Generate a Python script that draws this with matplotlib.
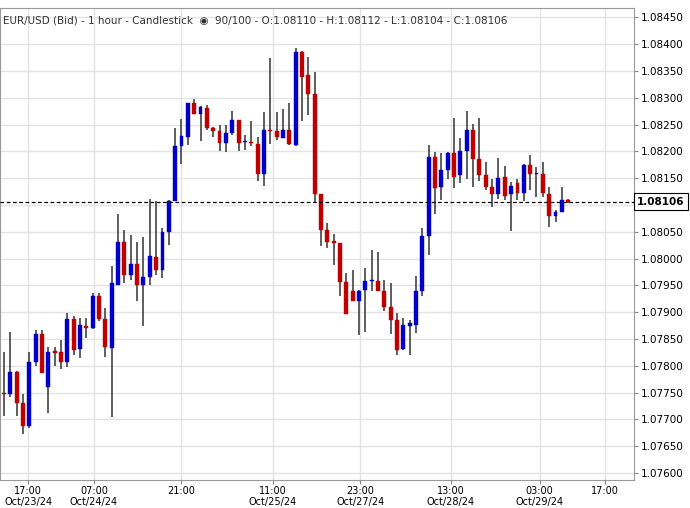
import matplotlib
matplotlib.use("Agg")
import matplotlib.pyplot as plt
from matplotlib.patches import Rectangle

opens = [1.07750,1.07747,1.07788,1.07730,1.07688,1.07807,1.07859,1.07760,1.07827,1.07825,
         1.07807,1.07888,1.07831,1.07875,1.07870,1.07931,1.07888,1.07833,1.07951,1.08031,
         1.07970,1.07990,1.07951,1.07966,1.08003,1.07979,1.08050,1.08108,1.08209,1.08227,
         1.08290,1.08270,1.08281,1.08244,1.08238,1.08216,1.08235,1.08259,1.08218,1.08218,
         1.08214,1.08157,1.08240,1.08238,1.08225,1.08240,1.08212,1.08385,1.08342,1.08307,
         1.08121,1.08053,1.08033,1.08029,1.07957,1.07940,1.07921,1.07942,1.07959,1.07959,
         1.07940,1.07909,1.07885,1.07831,1.07875,1.07877,1.07940,1.08042,1.08190,1.08134,
         1.08166,1.08196,1.08155,1.08201,1.08240,1.08186,1.08155,1.08134,1.08120,1.08153,
         1.08120,1.08140,1.08123,1.08175,1.08158,1.08158,1.08121,1.08079,1.08086,1.08110]
highs = [1.07825,1.07864,1.07790,1.07747,1.07825,1.07866,1.07866,1.07835,1.07835,1.07848,
         1.07898,1.07892,1.07890,1.07890,1.07936,1.07936,1.07907,1.07986,1.08083,1.08053,
         1.08044,1.08031,1.08040,1.08112,1.08108,1.08057,1.08110,1.08244,1.08261,1.08290,
         1.08298,1.08285,1.08287,1.08246,1.08250,1.08250,1.08276,1.08259,1.08231,1.08257,
         1.08227,1.08274,1.08374,1.08274,1.08278,1.08290,1.08393,1.08387,1.08376,1.08348,
         1.08121,1.08066,1.08046,1.08029,1.07973,1.07979,1.07942,1.07983,1.08016,1.08012,
         1.07960,1.07955,1.07898,1.07890,1.07885,1.07968,1.08057,1.08212,1.08199,1.08196,
         1.08199,1.08263,1.08224,1.08276,1.08251,1.08263,1.08181,1.08149,1.08188,1.08173,
         1.08142,1.08149,1.08177,1.08194,1.08170,1.08181,1.08134,1.08090,1.08134,1.08112]
lows = [1.07706,1.07742,1.07706,1.07673,1.07684,1.07799,1.07786,1.07712,1.07799,1.07794,
        1.07797,1.07820,1.07814,1.07851,1.07868,1.07883,1.07816,1.07704,1.07951,1.07955,
        1.07960,1.07920,1.07875,1.07951,1.07970,1.07964,1.08025,1.08108,1.08177,1.08211,
        1.08270,1.08220,1.08240,1.08227,1.08201,1.08199,1.08231,1.08201,1.08203,1.08209,
        1.08144,1.08136,1.08214,1.08222,1.08224,1.08212,1.08209,1.08257,1.08268,1.08105,
        1.08023,1.08020,1.07988,1.07931,1.07896,1.07921,1.07857,1.07864,1.07940,1.07940,
        1.07903,1.07859,1.07820,1.07829,1.07820,1.07862,1.07931,1.08007,1.08083,1.08110,
        1.08149,1.08131,1.08140,1.08149,1.08134,1.08144,1.08127,1.08097,1.08112,1.08110,
        1.08051,1.08110,1.08108,1.08127,1.08114,1.08114,1.08059,1.08068,1.08086,1.08104]
closes = [1.07747,1.07788,1.07730,1.07688,1.07807,1.07859,1.07786,1.07825,1.07824,1.07807,
          1.07888,1.07829,1.07877,1.07870,1.07931,1.07888,1.07835,1.07955,1.08031,1.07970,
          1.07990,1.07951,1.07966,1.08005,1.07979,1.08050,1.08108,1.08209,1.08229,1.08290,
          1.08270,1.08283,1.08244,1.08238,1.08216,1.08235,1.08259,1.08216,1.08218,1.08216,
          1.08157,1.08240,1.08238,1.08227,1.08240,1.08214,1.08385,1.08339,1.08307,1.08121,
          1.08053,1.08031,1.08029,1.07957,1.07896,1.07921,1.07940,1.07959,1.07960,1.07940,
          1.07909,1.07885,1.07829,1.07877,1.07879,1.07940,1.08042,1.08190,1.08131,1.08166,
          1.08196,1.08153,1.08201,1.08240,1.08186,1.08155,1.08134,1.08120,1.08151,1.08116,
          1.08136,1.08123,1.08175,1.08157,1.08159,1.08123,1.08079,1.08086,1.08110,1.08106]

tick_pos = [3.8, 14.2, 27.9, 42.4, 56.2, 70.5, 84.5, 94.8]
tick_labels = ["17:00\nOct/23/24", "07:00\nOct/24/24", "21:00", "11:00\nOct/25/24",
               "23:00\nOct/27/24", "13:00\nOct/28/24", "03:00\nOct/29/24", "17:00"]
y_ticks = [1.07600 + 0.0005 * i for i in range(18)]
last_price = 1.08106
title = "EUR/USD (Bid) - 1 hour - Candlestick  \u25c9  90/100 - O:1.08110 - H:1.08112 - L:1.08104 - C:1.08106"

fig = plt.figure(figsize=(6.9, 5.08), dpi=100)
ax = fig.add_axes([0.0, 0.055, 0.919, 0.929])
ax.set_facecolor("white")

up, down, wick = "#0000c8", "#c00000", "#333333"
w = 0.62
for i, (o, h, l, c) in enumerate(zip(opens, highs, lows, closes)):
    ax.vlines(i, l, h, color=wick, lw=1.1, zorder=2)
    col = up if c >= o else down
    lo, hi = min(o, c), max(o, c)
    hgt = max(hi - lo, 0.000012)
    ax.add_patch(Rectangle((i - w / 2, lo), w, hgt, facecolor=col, edgecolor=col, lw=0.3, zorder=3))

ax.set_xlim(-0.63, 99.4)
ax.set_ylim(1.07587, 1.08467)
ax.set_xticks(tick_pos)
ax.set_xticklabels(tick_labels, fontsize=7, linespacing=1.05)
ax.set_yticks(y_ticks)
ax.set_yticklabels([f"{v:.5f}" for v in y_ticks], fontsize=7.5)
ax.yaxis.tick_right()
ax.tick_params(axis="both", length=3, color="#888888", pad=1.5)
ax.grid(True, color="#e3e3e3", lw=1)
ax.set_axisbelow(True)
for s in ax.spines.values():
    s.set_color("#999999")
    s.set_linewidth(0.8)

ax.axhline(last_price, color="black", ls=(0, (3, 2)), lw=0.9, zorder=4)
ax.text(1.005, last_price, f"{last_price:.5f}", transform=ax.get_yaxis_transform(),
        va="center", ha="left", fontsize=7.5, fontweight="bold",
        bbox=dict(boxstyle="square,pad=0.35", fc="white", ec="black", lw=0.8), zorder=5, clip_on=False)
ax.text(0.005, 0.985, title, transform=ax.transAxes, va="top", ha="left", fontsize=7.5, color="#333333")

fig.savefig("out.png", dpi=100)
